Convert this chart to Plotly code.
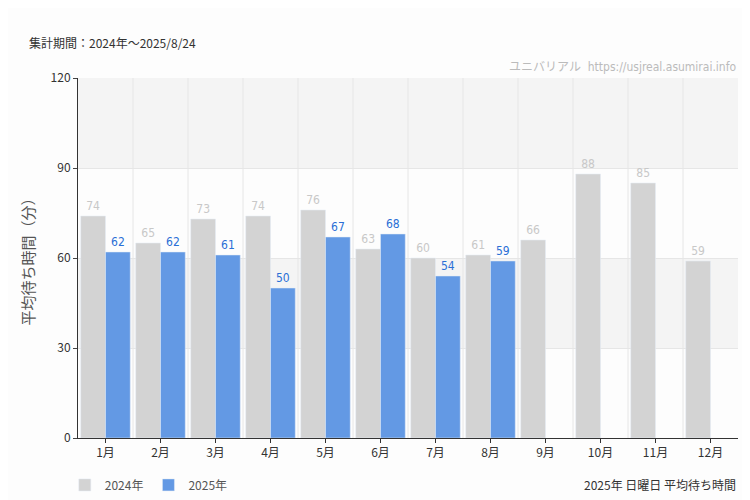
import plotly.graph_objects as go

months = ["1月","2月","3月","4月","5月","6月","7月","8月","9月","10月","11月","12月"]
v2024 = [74,65,73,74,76,63,60,61,66,88,85,59]
v2025 = [62,62,61,50,67,68,54,59,None,None,None,None]
yticks = [0,30,60,90,120]

lab = "DejaVu Sans Condensed"
fig = go.Figure()
fig.add_bar(x=months, y=v2024, name="2024年", marker_color="#d3d3d3",
            text=v2024, textposition="outside", cliponaxis=False,
            textfont=dict(color="#c8c8c8", size=12, family=lab))
fig.add_bar(x=months, y=v2025, name="2025年", marker_color="#6399e4",
            text=[str(v) if v is not None else "" for v in v2025], textposition="outside", cliponaxis=False,
            textfont=dict(color="#2a6fd6", size=12, family=lab))

shapes = []
for lo, hi in [(30, 60), (90, 120)]:
    shapes.append(dict(type="rect", xref="paper", yref="y", x0=0, x1=1, y0=lo, y1=hi,
                       fillcolor="#f4f4f4", line_width=0, layer="below"))
for i in range(len(months) - 1):
    shapes.append(dict(type="line", xref="x", yref="paper", x0=i + 0.5, x1=i + 0.5, y0=0, y1=1,
                       line=dict(color="#e6e6e6", width=1), layer="below"))

fig.update_layout(
    width=750, height=500, paper_bgcolor="#fdfdfd", plot_bgcolor="#fdfdfd",
    margin=dict(l=70, r=20, t=70, b=70, autoexpand=False),
    barmode="group", bargap=0.1, bargroupgap=0,
    font=dict(family="Noto Sans CJK JP", size=12, color="#333"),
    shapes=shapes,
    showlegend=True,
    legend=dict(orientation="h", x=-0.02, y=-0.09, xanchor="left", yanchor="top",
                font=dict(size=12, color="#555")),
    xaxis=dict(showline=True, linecolor="#333", ticks="outside", ticklen=4, tickcolor="#333",
               tickfont=dict(size=12, color="#333"), automargin=False),
    yaxis=dict(range=[0, 120], tickvals=yticks, showgrid=True, gridcolor="#e6e6e6",
               showline=True, linecolor="#333", ticks="outside", ticklen=4, zeroline=False,
               automargin=False,
               title=dict(text="平均待ち時間（分）", font=dict(size=15, color="#555"), standoff=12)),
    annotations=[
        dict(text="集計期間：2024年〜2025/8/24", xref="paper", yref="paper", x=-0.077, y=1.07,
             xanchor="left", yanchor="bottom", showarrow=False, font=dict(size=12, color="#333")),
        dict(text="ユニバリアル  https://usjreal.asumirai.info", xref="paper", yref="paper", x=1, y=1.005,
             xanchor="right", yanchor="bottom", showarrow=False,
             font=dict(size=12, color="#bbb", family=lab + ", Noto Sans CJK JP")),
        dict(text="2025年 日曜日 平均待ち時間", xref="paper", yref="paper", x=1, y=-0.1,
             xanchor="right", yanchor="top", showarrow=False, font=dict(size=12, color="#333")),
    ],
)
fig.write_html("out.html")
